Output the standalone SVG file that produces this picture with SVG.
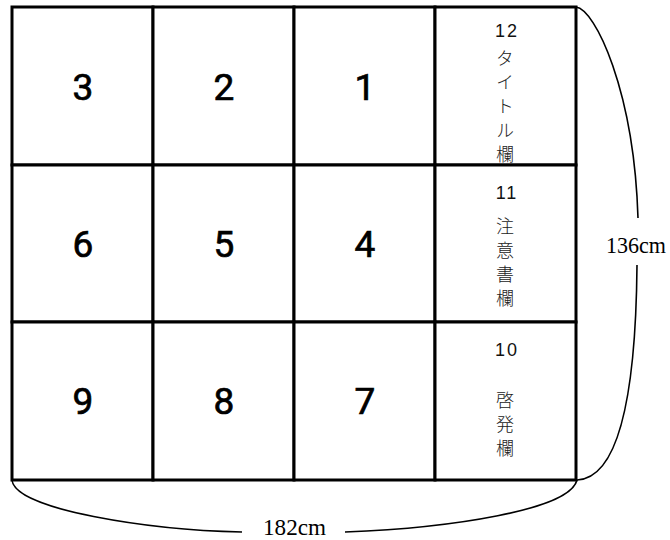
<svg xmlns="http://www.w3.org/2000/svg" width="670" height="540" viewBox="0 0 670 540">
<style>
.cell{fill:#fff;stroke:#000;stroke-width:3}
.big{font-family:Roboto,"Liberation Sans",Arial,sans-serif;font-size:37px;font-weight:400;fill:#000;stroke:#000;stroke-width:0.7;text-anchor:middle;dominant-baseline:central}
.num{font-family:"Liberation Sans",Arial,sans-serif;font-size:18px;fill:#111;text-anchor:middle;letter-spacing:2px}
.jp{font-family:"Noto Sans CJK JP",sans-serif;font-size:18px;font-weight:300;fill:#222;writing-mode:vertical-rl;text-orientation:upright;letter-spacing:6px}
.dim{font-family:"Liberation Serif","Times New Roman",serif;font-size:23px;fill:#000}
.brace{fill:none;stroke:#000;stroke-width:1.6}
</style>
<rect x="0" y="0" width="670" height="540" fill="#fff"/>
<g id="cell3"><rect class="cell" x="12" y="7" width="141" height="158"/><text class="big" x="83" y="87">3</text></g>
<g id="cell2"><rect class="cell" x="153" y="7" width="141" height="158"/><text class="big" x="224" y="87">2</text></g>
<g id="cell1"><rect class="cell" x="294" y="7" width="141" height="158"/><text class="big" x="365" y="87">1</text></g>
<g id="cell12"><rect class="cell" x="435" y="7" width="141" height="158"/>
<text class="num" x="507" y="37">12</text>
<text class="jp" x="505" y="49">タイトル欄</text>
</g>
<g id="cell6"><rect class="cell" x="12" y="165" width="141" height="157"/><text class="big" x="83" y="244">6</text></g>
<g id="cell5"><rect class="cell" x="153" y="165" width="141" height="157"/><text class="big" x="224" y="244">5</text></g>
<g id="cell4"><rect class="cell" x="294" y="165" width="141" height="157"/><text class="big" x="365" y="244">4</text></g>
<g id="cell11"><rect class="cell" x="435" y="165" width="141" height="157"/>
<text class="num" x="507" y="199">11</text>
<text class="jp" x="505" y="217">注意書欄</text>
</g>
<g id="cell9"><rect class="cell" x="12" y="322" width="141" height="158"/><text class="big" x="83" y="401">9</text></g>
<g id="cell8"><rect class="cell" x="153" y="322" width="141" height="158"/><text class="big" x="224" y="401">8</text></g>
<g id="cell7"><rect class="cell" x="294" y="322" width="141" height="158"/><text class="big" x="365" y="401">7</text></g>
<g id="cell10"><rect class="cell" x="435" y="322" width="141" height="158"/>
<text class="num" x="507" y="356">10</text>
<text class="jp" x="505" y="391">啓発欄</text>
</g>
<g id="connectors">
<path class="brace" d="M576,7 C595,9 634,90 638,218"/>
<path class="brace" d="M637,265 C636,380 622,478 577,480"/>
<path class="brace" d="M12,480 C15,510 150,530 242,532"/>
<path class="brace" d="M345,532 C450,528 570,510 577,480"/>
</g>
<g id="dims">
<text class="dim" x="606" y="253" textLength="60" lengthAdjust="spacingAndGlyphs">136cm</text>
<text class="dim" x="263" y="535" textLength="63" lengthAdjust="spacingAndGlyphs">182cm</text>
</g>
</svg>
